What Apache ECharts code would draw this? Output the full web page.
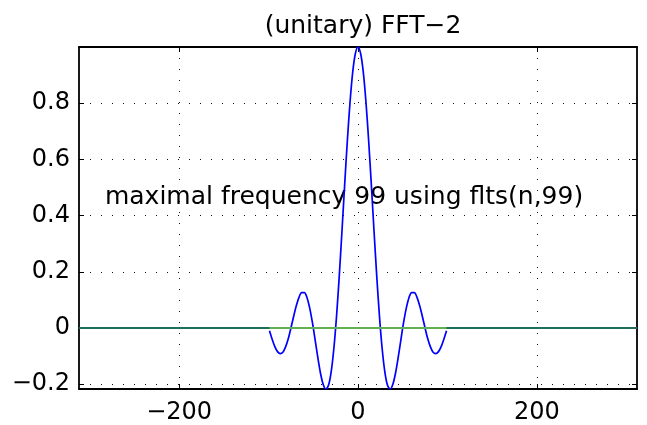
<!DOCTYPE html>
<html>
<head>
<meta charset="utf-8">
<script src="https://cdn.jsdelivr.net/npm/echarts@6/dist/echarts.min.js"></script>
<style>
  html, body { margin: 0; padding: 0; background: #fff; }
  #chart { width: 647px; height: 425px; }
</style>
</head>
<body>
<div id="chart"></div>
<script>
// ---- data ----
const titleText = '(unitary) FFT\u22122';
const noteText = 'maximal frequency 99 using flts(n,99)';
const notePos = [-283, 0.465];

const xRange = [-312, 312];
const yRange = [-0.217, 1.0];
const xTicks = [-200, 0, 200];
const yTicks = [-0.2, 0, 0.2, 0.4, 0.6, 0.8];

// blue curve (samples from -99 .. 99)
const fftX = [-99,-96,-93,-90,-87,-84,-81,-78,-75,-72,-69,-66,-63,-60,-57,-54,-51,-48,-45,-42,-39,-36,-33,-30,-27,-24,-21,-18,-15,-12,-9,-6,-3,
  0,3,6,9,12,15,18,21,24,27,30,33,36,39,42,45,48,51,54,57,60,63,66,69,72,75,78,81,84,87,90,93,96,99];
const fftY = [-0.010,-0.040,-0.066,-0.084,-0.091,-0.086,-0.067,-0.038,0.000,0.041,0.079,0.109,0.126,0.126,0.108,0.071,0.020,-0.041,-0.104,-0.160,-0.200,-0.217,-0.204,-0.156,-0.073,0.042,0.183,0.341,0.505,0.662,0.800,0.908,0.976,
  1.000,0.976,0.908,0.800,0.662,0.505,0.341,0.183,0.042,-0.073,-0.156,-0.204,-0.217,-0.200,-0.160,-0.104,-0.041,0.020,0.071,0.108,0.126,0.126,0.109,0.079,0.041,0.000,-0.038,-0.067,-0.086,-0.091,-0.084,-0.066,-0.040,-0.010];

// zero line: dark outer part, lighter inner part
const zeroOuterX = [-312, 312];
const zeroOuterY = [0, 0];
const zeroInnerX = [-99, 99];
const zeroInnerY = [0, 0];

// ---- chart ----
const FONT = 'DejaVu Sans';
const zip = (a, b) => a.map((v, i) => [v, b[i]]);
const fmt = v => String(+(+v).toFixed(1)).replace('-', '\u2212');

const axisLine = { show: true, onZero: false, lineStyle: { color: '#000', width: 1.8 } };
const tick = (vals) => ({ show: true, inside: true, length: 5, customValues: vals, lineStyle: { color: '#000', width: 1 } });
const grid = { show: true, lineStyle: { color: '#111', width: 1, type: [1, 10] } };

const chart = echarts.init(document.getElementById('chart'), null, { renderer: 'canvas' });
chart.setOption({
  animation: false,
  backgroundColor: '#fff',
  title: {
    text: titleText, left: 358, top: 9, textAlign: 'center',
    textStyle: { fontFamily: FONT, fontSize: 25, fontWeight: 'normal', color: '#000' }
  },
  grid: { left: 79, right: 10, top: 47, bottom: 33, containLabel: false },
  xAxis: [
    { type: 'value', position: 'bottom', min: xRange[0], max: xRange[1],
      axisLine, axisTick: tick(xTicks), splitLine: grid,
      axisLabel: { customValues: xTicks, margin: 12, fontFamily: FONT, fontSize: 24, color: '#000', formatter: fmt } },
    { type: 'value', position: 'top', min: xRange[0], max: xRange[1],
      axisLine, axisTick: tick(xTicks), splitLine: { show: false }, axisLabel: { show: false } }
  ],
  yAxis: [
    { type: 'value', position: 'left', min: yRange[0], max: yRange[1],
      axisLine, axisTick: tick(yTicks), splitLine: grid,
      axisLabel: { customValues: yTicks, margin: 9, fontFamily: FONT, fontSize: 24, color: '#000', formatter: fmt } },
    { type: 'value', position: 'right', min: yRange[0], max: yRange[1],
      axisLine, axisTick: tick(yTicks), splitLine: { show: false }, axisLabel: { show: false } }
  ],
  series: [
    { type: 'line', data: zip(zeroOuterX, zeroOuterY), showSymbol: false, silent: true,
      lineStyle: { color: '#1f6e5c', width: 2 } },
    { type: 'line', data: zip(fftX, fftY), showSymbol: false, smooth: 0.3, silent: true,
      lineStyle: { color: '#0000ff', width: 1.7 } },
    { type: 'line', data: zip(zeroInnerX, zeroInnerY), showSymbol: false, silent: true,
      lineStyle: { color: '#62b054', width: 2 } },
    { type: 'scatter', data: [notePos], symbolSize: 0, silent: true,
      itemStyle: { color: '#000', opacity: 1 },
      label: { show: true, position: 'right', distance: 0, formatter: noteText,
               fontFamily: FONT, fontSize: 25, color: '#000', opacity: 1 } }
  ]
});
</script>
</body>
</html>
